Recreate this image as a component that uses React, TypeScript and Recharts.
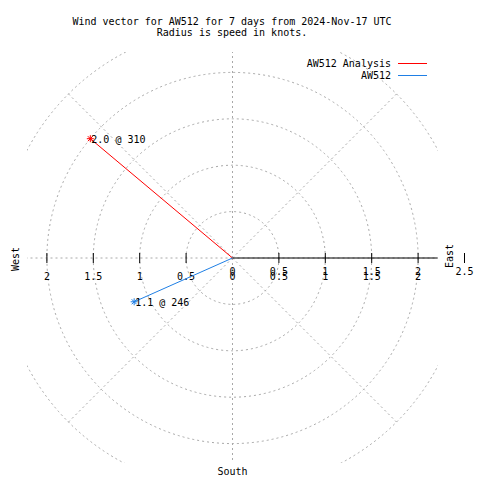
import {
  ScatterChart,
  Scatter,
  XAxis,
  YAxis,
  ReferenceLine,
  Legend,
  RadarChart,
  PolarGrid,
  PolarAngleAxis,
  PolarRadiusAxis,
  Radar
} from 'recharts';

// wind vectors: speed in knots, direction in compass degrees
const seriesNames = ['AW512 Analysis', 'AW512'];
const speeds = [2.0, 1.16];
const directions = [310, 246];
const pointLabels = ['2.0 @ 310', '1.1 @ 246'];
const seriesColors = ['#ff0000', '#1f7fe5'];

// radius axis
const eastTicks = [0.5, 1, 1.5, 2, 2.5];
const westTicks = [2, 1.5, 1, 0.5];
const ringTicks = [0.5, 1, 1.5, 2, 2.5];
const compass = ['N', 'NE', 'E', 'SE', 'S', 'SW', 'W', 'NW'];

const FONT = '"DejaVu Sans Mono", monospace';
const PX = 92.8; // pixels per knot
const CX = 232.5;
const CY = 258;
const SIZE = 480;
const AXIS_END = 2.21;
const MAX_R = 2.5;

// outer ring of the grid at every compass point
const compassData = compass.map(d => ({ dir: d, outer: MAX_R }));

const vectors = speeds.map((s, i) => {
  const a = (directions[i] * Math.PI) / 180;
  return [
    { x: 0, y: 0 },
    { x: s * Math.sin(a), y: s * Math.cos(a), label: pointLabels[i] }
  ];
});

const eastData = eastTicks.map(v => ({ x: v, y: 0, label: String(v), twice: v !== 2.5 }));
const westData = westTicks.map(v => ({ x: -v, y: 0, label: String(v) }));
const centerData = [{ x: 0, y: 0, label: '0' }];

const Star = (props: any) => {
  const { cx, cy, payload, fill } = props;
  if (!payload || !payload.label) return <g />;
  const r = 3.5;
  return (
    <g>
      <line x1={cx - r} x2={cx + r} y1={cy} y2={cy} stroke={fill} />
      <line x1={cx} x2={cx} y1={cy - r} y2={cy + r} stroke={fill} />
      <line x1={cx - 2.5} x2={cx + 2.5} y1={cy - 2.5} y2={cy + 2.5} stroke={fill} />
      <line x1={cx - 2.5} x2={cx + 2.5} y1={cy + 2.5} y2={cy - 2.5} stroke={fill} />
      <text x={cx + 1} y={cy + 4} fontSize={10} fontFamily={FONT} fill="#000">
        {payload.label}
      </text>
    </g>
  );
};

const TickMark = (props: any) => {
  const { cx, cy, payload } = props;
  return (
    <g>
      <line x1={cx} x2={cx} y1={cy - 5} y2={cy + 5} stroke="#000" />
      {payload.twice !== false && (
        <text x={cx} y={cy + 22} textAnchor="middle" fontSize={10} fontFamily={FONT} fill="#000">
          {payload.label}
        </text>
      )}
      {payload.twice !== undefined && (
        <text x={cx} y={cy + 17} textAnchor="middle" fontSize={10} fontFamily={FONT} fill="#000">
          {payload.label}
        </text>
      )}
    </g>
  );
};

const CenterLabel = (props: any) => {
  const { cx, cy, payload } = props;
  return (
    <g>
      <text x={cx} y={cy + 17} textAnchor="middle" fontSize={10} fontFamily={FONT} fill="#000">
        {payload.label}
      </text>
      <text x={cx} y={cy + 22} textAnchor="middle" fontSize={10} fontFamily={FONT} fill="#000">
        {payload.label}
      </text>
    </g>
  );
};

const LegendContent = () => (
  <div style={{ fontFamily: FONT, fontSize: 10 }}>
    {seriesNames.map((name, i) => (
      <div
        key={name}
        style={{ display: 'flex', justifyContent: 'flex-end', alignItems: 'center', height: 12 }}
      >
        <span style={{ whiteSpace: 'pre' }}>{name}</span>
        <span style={{ width: 29, height: 0, borderTop: `1px solid ${seriesColors[i]}`, marginLeft: 7 }} />
      </div>
    ))}
  </div>
);

export default function App() {
  const boxLeft = 27;
  const boxTop = 52;
  const boxSize = 411;
  return (
    <div style={{ position: 'absolute', left: 0, top: 0, width: SIZE, height: SIZE, background: '#fff' }}>
      {/* polar grid, clipped to the square plot box */}
      <div style={{ position: 'absolute', left: boxLeft, top: boxTop }}>
        <RadarChart
          width={boxSize}
          height={boxSize}
          data={compassData}
          cx={CX - boxLeft}
          cy={CY - boxTop}
          outerRadius={MAX_R * PX}
          margin={{ top: 0, right: 0, bottom: 0, left: 0 }}
        >
          <PolarGrid
            gridType="circle"
            polarRadius={ringTicks.map(t => t * PX)}
            stroke="#a8a8a8"
            strokeDasharray="2 3"
          />
          <PolarAngleAxis dataKey="dir" tick={false} axisLine={false} tickLine={false} />
          <PolarRadiusAxis type="number" domain={[0, MAX_R]} tick={false} axisLine={false} />
          <Radar dataKey="outer" stroke="none" fill="none" isAnimationActive={false} />
        </RadarChart>
      </div>

      <div style={{ position: 'absolute', left: 0, top: 0 }}>
        <ScatterChart width={SIZE} height={SIZE} margin={{ top: 0, right: 0, bottom: 0, left: 0 }}>
          <XAxis
            type="number"
            dataKey="x"
            domain={[-CX / PX, (SIZE - CX) / PX]}
            allowDataOverflow
            hide
          />
          <YAxis
            type="number"
            dataKey="y"
            domain={[-(SIZE - CY) / PX, CY / PX]}
            allowDataOverflow
            hide
          />
          <ReferenceLine
            segment={[{ x: 0, y: 0 }, { x: AXIS_END, y: 0 }]}
            stroke="#000"
            strokeWidth={1}
            ifOverflow="visible"
          />
          <Scatter data={eastData} shape={<TickMark />} legendType="none" isAnimationActive={false} />
          <Scatter data={westData} shape={<TickMark />} legendType="none" isAnimationActive={false} />
          <Scatter data={centerData} shape={<CenterLabel />} legendType="none" isAnimationActive={false} />
          {vectors.map((v, i) => (
            <Scatter
              key={seriesNames[i]}
              name={seriesNames[i]}
              data={v}
              fill={seriesColors[i]}
              line={{ stroke: seriesColors[i], strokeWidth: 1 }}
              lineType="joint"
              shape={<Star />}
              isAnimationActive={false}
            />
          ))}
          <Legend
            layout="horizontal"
            align="center"
            verticalAlign="middle"
            content={<LegendContent />}
            wrapperStyle={{ position: 'absolute', top: 57, right: 53, left: 'auto', width: 'auto' }}
          />
        </ScatterChart>
      </div>

      <svg
        width={SIZE}
        height={SIZE}
        style={{ position: 'absolute', left: 0, top: 0, pointerEvents: 'none' }}
        fontFamily={FONT}
        fontSize={10}
      >
        <text x={232} y={25} textAnchor="middle">
          Wind vector for AW512 for 7 days from 2024-Nov-17 UTC
        </text>
        <text x={232} y={36} textAnchor="middle">
          Radius is speed in knots.
        </text>
        <text transform="translate(15,259) rotate(-90)" textAnchor="middle" dominantBaseline="central">
          West
        </text>
        <text transform="translate(449,256) rotate(-90)" textAnchor="middle" dominantBaseline="central">
          East
        </text>
        <text x={CX} y={475} textAnchor="middle">
          South
        </text>
      </svg>
    </div>
  );
}
